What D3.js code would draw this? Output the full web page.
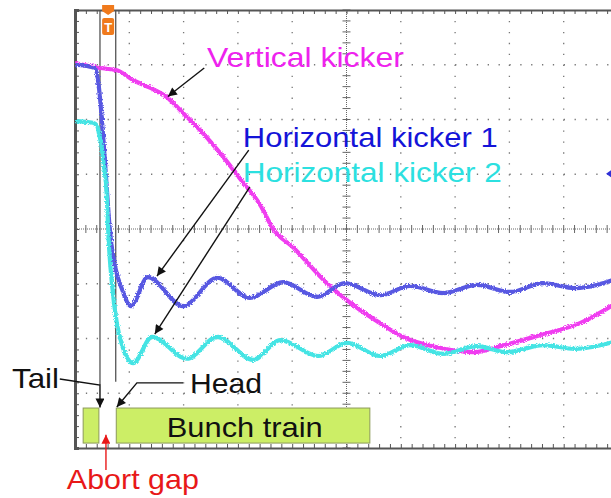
<!DOCTYPE html>
<html>
<head>
<meta charset="utf-8">
<script src="https://cdn.jsdelivr.net/npm/d3@7"></script>
<style>
  body { margin: 0; background: #fff; }
  text { font-family: "Liberation Sans", Arial, sans-serif; }
</style>
</head>
<body>
<div id="chart"></div>
<script>
// scope screen, units are divisions (10 across, 8 high)
const xDivisions = d3.range(0, 11);
const yDivisions = d3.range(-4, 5);
const minorTicksX = d3.range(0, 10.01, 0.2);
const minorTicksY = d3.range(-4, 4.01, 0.2);

// [time div, volt div]
const verticalKicker = [[0, 3.03], [0.46, 2.94], [0.77, 2.9], [1.07, 2.72], [1.38, 2.58], [1.69, 2.41],
  [1.99, 2.12], [2.3, 1.81], [2.67, 1.39], [3.04, 0.92], [3.41, 0.44], [3.65, 0], [4.01, -0.33],
  [4.64, -0.99], [5.25, -1.48], [5.62, -1.72], [6.04, -1.97], [6.72, -2.17], [7.33, -2.25],
  [7.83, -2.14], [8.56, -1.94], [9.3, -1.72], [10, -1.33]];

const horizontalKicker1 = [[0, 3.0], [0.37, 2.94], [0.43, 2.67], [0.5, 1.94], [0.55, 1.26], [0.6, 0.53],
  [0.64, 0], [0.74, -0.69], [0.87, -1.11], [1.03, -1.41], [1.34, -0.88], [1.99, -1.41], [2.62, -0.89],
  [3.22, -1.26], [3.83, -0.97], [4.46, -1.24], [4.97, -0.99], [5.62, -1.21], [6.17, -1.04],
  [6.78, -1.17], [7.4, -1.02], [8.01, -1.15], [8.62, -0.99], [9.21, -1.08], [10, -0.9]];

const horizontalKicker2 = [[0, 1.97], [0.33, 1.94], [0.41, 1.88], [0.44, 1.75], [0.5, 1.44], [0.52, 1.26],
  [0.59, 0.53], [0.61, 0], [0.68, -0.99], [0.77, -1.72], [0.88, -2.16], [1.07, -2.45], [1.42, -1.97],
  [2.06, -2.37], [2.62, -1.97], [3.28, -2.39], [3.78, -2.03], [4.48, -2.32], [5.01, -2.08],
  [5.62, -2.32], [6.17, -2.12], [6.78, -2.28], [7.4, -2.14], [7.96, -2.25], [8.62, -2.12],
  [9.21, -2.19], [10, -2.04]];

const traceNames = ["Vertical kicker", "Horizontal kicker 1", "Horizontal kicker 2"];
const traceColors = ["#f03cf0", "#5858e2", "#44e4e4"];
const labelColors = ["#ee22ee", "#1414d8", "#2ce0e0"];

// bunch train boxes [start div, end div]
const bunchBoxes = [[0.15, 0.44], [0.76, 5.43]];
const cursors = [0.46, 0.75];
const triggerPos = 0.61;

const width = 611;
const height = 498;
const frame = { left: 75, top: 10, right: 618, bottom: 448 };

const svg = d3
  .select("#chart")
  .append("svg")
  .attr("width", width)
  .attr("height", height);

const x = d3.scaleLinear().domain([0, 10]).range([frame.left, frame.right]);
const y = d3.scaleLinear().domain([-4, 4]).range([frame.bottom, frame.top]);

const defs = svg.append("defs");
defs
  .append("clipPath")
  .attr("id", "screen")
  .append("rect")
  .attr("x", x(0))
  .attr("y", y(4))
  .attr("width", x(10) - x(0))
  .attr("height", y(-4) - y(4));

const noise = defs.append("filter").attr("id", "noise").attr("x", "-5%").attr("y", "-5%")
  .attr("width", "110%").attr("height", "110%");
noise.append("feTurbulence").attr("type", "fractalNoise").attr("baseFrequency", 0.9)
  .attr("numOctaves", 1).attr("seed", 3).attr("result", "t");
noise.append("feDisplacementMap").attr("in", "SourceGraphic").attr("in2", "t")
  .attr("scale", 4).attr("xChannelSelector", "R").attr("yChannelSelector", "G");

function addMarker(id, color) {
  defs
    .append("marker")
    .attr("id", id)
    .attr("viewBox", "0 0 10 10")
    .attr("refX", 10)
    .attr("refY", 5)
    .attr("markerUnits", "userSpaceOnUse")
    .attr("markerWidth", 11)
    .attr("markerHeight", 9)
    .attr("orient", "auto")
    .append("path")
    .attr("d", "M0,0 L10,5 L0,10 z")
    .attr("fill", color);
}
addMarker("arrowBlack", "#111");
addMarker("arrowRed", "#e81818");

// grid
const stepX = x(0.2) - x(0);
const stepY = y(-0.2) - y(0);
const grid = svg.append("g");
grid
  .selectAll("line.v")
  .data(xDivisions.filter(d => d !== 0 && d !== 5))
  .enter()
  .append("line")
  .attr("x1", d => x(d))
  .attr("x2", d => x(d))
  .attr("y1", y(4))
  .attr("y2", y(-4))
  .attr("stroke", "#777")
  .attr("stroke-width", 1.3)
  .attr("stroke-dasharray", `1.3 ${stepY - 1.3}`);
grid
  .selectAll("line.h")
  .data(yDivisions.filter(d => d !== 0 && Math.abs(d) !== 4))
  .enter()
  .append("line")
  .attr("x1", x(0))
  .attr("x2", x(10))
  .attr("y1", d => y(d))
  .attr("y2", d => y(d))
  .attr("stroke", "#777")
  .attr("stroke-width", 1.3)
  .attr("stroke-dasharray", `1.3 ${stepX - 1.3}`);

// centre axes
grid.append("line").attr("x1", x(0)).attr("x2", x(10)).attr("y1", y(0)).attr("y2", y(0))
  .attr("stroke", "#666").attr("stroke-dasharray", "1 1");
grid.append("line").attr("x1", x(5)).attr("x2", x(5)).attr("y1", y(4)).attr("y2", y(-4))
  .attr("stroke", "#666").attr("stroke-dasharray", "1 1");
grid.selectAll("line.cx").data(minorTicksX).enter().append("line")
  .attr("x1", d => x(d)).attr("x2", d => x(d))
  .attr("y1", y(0) - 4).attr("y2", y(0) + 4)
  .attr("stroke", "#666").attr("stroke-width", 1);
grid.selectAll("line.cy").data(minorTicksY).enter().append("line")
  .attr("x1", x(5) - 4).attr("x2", x(5) + 4)
  .attr("y1", d => y(d)).attr("y2", d => y(d))
  .attr("stroke", "#666").attr("stroke-width", 1);

// frame edges with minor ticks
svg.append("g")
  .attr("transform", `translate(0, ${y(4)})`)
  .call(d3.axisBottom(x).tickValues(minorTicksX).tickSize(4).tickFormat(""))
  .call(g => g.selectAll("line, path").attr("stroke", "#555"))
  .call(g => g.select(".domain").attr("stroke-width", 2.2));
svg.append("g")
  .attr("transform", `translate(0, ${y(-4)})`)
  .call(d3.axisTop(x).tickValues(minorTicksX).tickSize(4).tickFormat(""))
  .call(g => g.selectAll("line, path").attr("stroke", "#555"))
  .call(g => g.select(".domain").attr("stroke-width", 2.2));
svg.append("g")
  .attr("transform", `translate(${x(0)}, 0)`)
  .call(d3.axisRight(y).tickValues(minorTicksY).tickSize(4).tickFormat(""))
  .call(g => g.selectAll("line, path").attr("stroke", "#555"))
  .call(g => g.select(".domain").attr("stroke-width", 3));

// cursors
svg.selectAll("line.cursor")
  .data(cursors)
  .enter()
  .append("line")
  .attr("x1", d => x(d))
  .attr("x2", d => x(d))
  .attr("y1", y(4))
  .attr("y2", (d, i) => (i === 0 ? y(-2.85) : y(-2.79)))
  .attr("stroke", "#555")
  .attr("stroke-width", 1.3);

// traces
const line = d3
  .line()
  .x(d => x(d[0]))
  .y(d => y(d[1]))
  .curve(d3.curveMonotoneX);

const traces = svg.append("g").attr("clip-path", "url(#screen)");
traces
  .selectAll("path")
  .data([verticalKicker, horizontalKicker1, horizontalKicker2])
  .enter()
  .append("path")
  .attr("d", line)
  .attr("fill", "none")
  .attr("stroke", (d, i) => traceColors[i])
  .attr("stroke-width", 4.2)
  .attr("stroke-linejoin", "round")
  .attr("filter", "url(#noise)");

// trigger marker
const trig = svg.append("g").attr("transform", `translate(${x(triggerPos)}, 0)`);
trig.append("path").attr("d", "M-6,5 L6,5 L6,11 L0,15 L-6,11 Z").attr("fill", "#f07a1c");
trig.append("rect").attr("x", -6).attr("y", 18).attr("width", 12).attr("height", 17)
  .attr("rx", 2).attr("fill", "#f07a1c");
trig.append("text").attr("x", 0).attr("y", 31.5).attr("text-anchor", "middle")
  .attr("fill", "#fff").attr("font-size", 13).attr("font-weight", "bold").text("T");

// trigger level marker at right edge
svg.append("path")
  .attr("d", `M${x(9.78)},${y(1.01)} l5,-3.5 v7 z`)
  .attr("fill", "#3030d8");

// bunch train
svg.selectAll("rect.bunch")
  .data(bunchBoxes)
  .enter()
  .append("rect")
  .attr("x", d => x(d[0]))
  .attr("y", y(-3.27))
  .attr("width", d => x(d[1]) - x(d[0]))
  .attr("height", y(-3.91) - y(-3.27))
  .attr("fill", "#ccee66")
  .attr("stroke", "#8c9a5a")
  .attr("stroke-width", 1);

// labels
const labels = [
  { text: traceNames[0], at: [2.43, 2.96], len: 197, color: labelColors[0] },
  { text: traceNames[1], at: [3.09, 1.5], len: 255, color: labelColors[1] },
  { text: traceNames[2], at: [3.09, 0.86], len: 259, color: labelColors[2] },
  { text: "Tail", at: [-1.16, -2.9], len: 47, color: "#111" },
  { text: "Head", at: [2.12, -3.0], len: 72, color: "#111" },
  { text: "Bunch train", at: [1.69, -3.8], len: 156, color: "#111" },
  { text: "Abort gap", at: [-0.15, -4.75], len: 132, color: "#e81818" }
];
svg.selectAll("text.label")
  .data(labels)
  .enter()
  .append("text")
  .attr("x", d => x(d.at[0]))
  .attr("y", d => y(d.at[1]))
  .attr("font-size", 28)
  .attr("textLength", d => d.len)
  .attr("lengthAdjust", "spacingAndGlyphs")
  .attr("fill", d => d.color)
  .text(d => d.text);

// annotation arrows
const arrows = [
  { pts: [[2.38, 2.94], [1.71, 2.42]], color: "arrowBlack", stroke: "#111" },
  { pts: [[3.2, 1.44], [1.51, -0.86]], color: "arrowBlack", stroke: "#111" },
  { pts: [[3.22, 0.77], [1.47, -1.92]], color: "arrowBlack", stroke: "#111" },
  { pts: [[-0.28, -2.74], [0.46, -2.85], [0.46, -3.26]], color: "arrowBlack", stroke: "#111" },
  { pts: [[1.99, -2.81], [1.14, -2.81], [0.77, -3.25]], color: "arrowBlack", stroke: "#111" },
  { pts: [[0.57, -4.4], [0.57, -3.76]], color: "arrowRed", stroke: "#e81818" }
];
const arrowLine = d3.line().x(d => x(d[0])).y(d => y(d[1]));
svg.selectAll("path.arrow")
  .data(arrows)
  .enter()
  .append("path")
  .attr("d", d => arrowLine(d.pts))
  .attr("fill", "none")
  .attr("stroke", d => d.stroke)
  .attr("stroke-width", 1.4)
  .attr("marker-end", d => `url(#${d.color})`);
</script>
</body>
</html>
